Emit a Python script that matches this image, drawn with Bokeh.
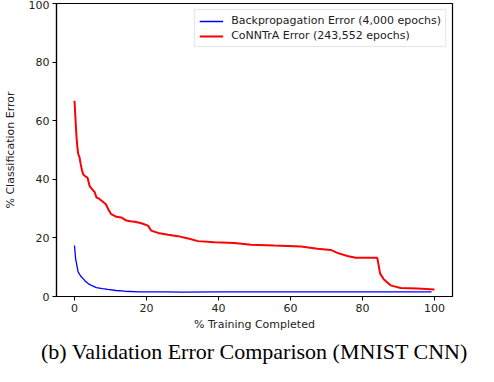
from bokeh.plotting import figure
from bokeh.models import Range1d, Legend, LegendItem, Title, FixedTicker
from bokeh.embed import file_html
from bokeh.resources import INLINE

# Backpropagation error (% training completed, % classification error)
bp_x = [0, 0.3, 1.0, 1.7, 2.4, 3.1, 3.8, 5.0, 6.1, 7.7, 9.3, 11.5, 13.9, 18, 25, 30, 40, 50, 60, 70, 80, 90, 99.2]
bp_y = [17.4, 12.9, 8.4, 7.0, 6.1, 5.1, 4.4, 3.6, 3.05, 2.7, 2.4, 2.05, 1.8, 1.6, 1.55, 1.5, 1.55, 1.55, 1.55, 1.55, 1.55, 1.55, 1.55]

# CoNNTrA error
cn_x = [0, 0.3, 0.55, 0.8, 1.0, 1.4, 1.75, 2.1, 2.4, 3.0, 3.6, 4.2, 5.0, 5.6, 6.1, 7.0, 7.8, 8.7, 9.5, 10.2, 11.0, 11.6, 13.0,
        14.4, 15.5, 16.7, 18.6, 20.4, 21.3, 23.2, 26.0, 28.7, 31.9, 34.3, 38.9, 44.4, 49.0, 55.5, 62.9, 67.5, 71.2,
        73.0, 75.8, 78.1, 84.1, 84.4, 84.9, 85.95, 87.8, 90.6, 95.2, 100]
cn_y = [66.8, 60.0, 54.6, 51.0, 48.8, 47.5, 45.0, 43.0, 41.7, 41.0, 40.6, 37.7, 36.5, 35.6, 33.8, 33.2, 32.4, 31.5, 29.5, 28.1, 27.6, 27.2, 27.0,
        25.9, 25.7, 25.5, 25.0, 24.2, 22.5, 21.7, 21.1, 20.6, 19.7, 18.9, 18.5, 18.3, 17.7, 17.4, 17.1, 16.3, 15.9,
        14.9, 13.8, 13.2, 13.2, 11.2, 7.8, 5.8, 3.8, 2.9, 2.7, 2.4]

x_ticks = [0, 20, 40, 60, 80, 100]
y_ticks = [0, 20, 40, 60, 80, 100]

p = figure(width=478, height=366, output_backend="svg", toolbar_location=None,
           x_range=Range1d(-5, 105), y_range=Range1d(0, 100),
           min_border_left=55, min_border_right=26, min_border_top=3, min_border_bottom=70)

p.xgrid.visible = False
p.ygrid.visible = False
p.outline_line_color = "black"
p.outline_line_width = 1.2

for ax in (p.xaxis[0], p.yaxis[0]):
    ax.major_label_text_font = "DejaVu Sans"
    ax.major_label_text_font_size = "11px"
    ax.major_label_text_color = "#222222"
    ax.axis_label_text_font = "DejaVu Sans"
    ax.axis_label_text_font_size = "11px"
    ax.axis_label_text_font_style = "normal"
    ax.axis_label_text_color = "#222222"
    ax.axis_line_color = "black"
    ax.axis_line_width = 1.2
    ax.major_tick_in = 0
    ax.major_tick_out = 4
    ax.minor_tick_line_color = None
    ax.major_label_standoff = 3

p.xaxis.ticker = FixedTicker(ticks=x_ticks)
p.yaxis.ticker = FixedTicker(ticks=y_ticks)
p.xaxis.axis_label = "% Training Completed"
p.yaxis.axis_label = "% Classification Error"
p.xaxis.axis_label_standoff = 3
p.yaxis.axis_label_standoff = 9

r_bp = p.line(bp_x, bp_y, line_color="blue", line_width=1.3)
r_cn = p.line(cn_x, cn_y, line_color="red", line_width=2.0)

legend = Legend(items=[
    LegendItem(label="Backpropagation Error (4,000 epochs)", renderers=[r_bp]),
    LegendItem(label="CoNNTrA Error (243,552 epochs)", renderers=[r_cn]),
], location="top_right")
legend.label_text_font = "DejaVu Sans"
legend.label_text_font_size = "11px"
legend.label_text_color = "#222222"
legend.border_line_color = "#cccccc"
legend.border_line_width = 1
legend.glyph_width = 24
legend.glyph_height = 12
legend.label_standoff = 8
legend.spacing = 2
legend.padding = 4
legend.margin = 6
legend.label_height = 12
p.add_layout(legend)

cap = Title(text="(b) Validation Error Comparison (MNIST CNN)", align="center",
            text_font="Liberation Serif", text_font_size="22px", text_font_style="normal",
            text_color="black", standoff=6)
p.add_layout(cap, "below")

open("out.html", "w").write(file_html(p, INLINE))
